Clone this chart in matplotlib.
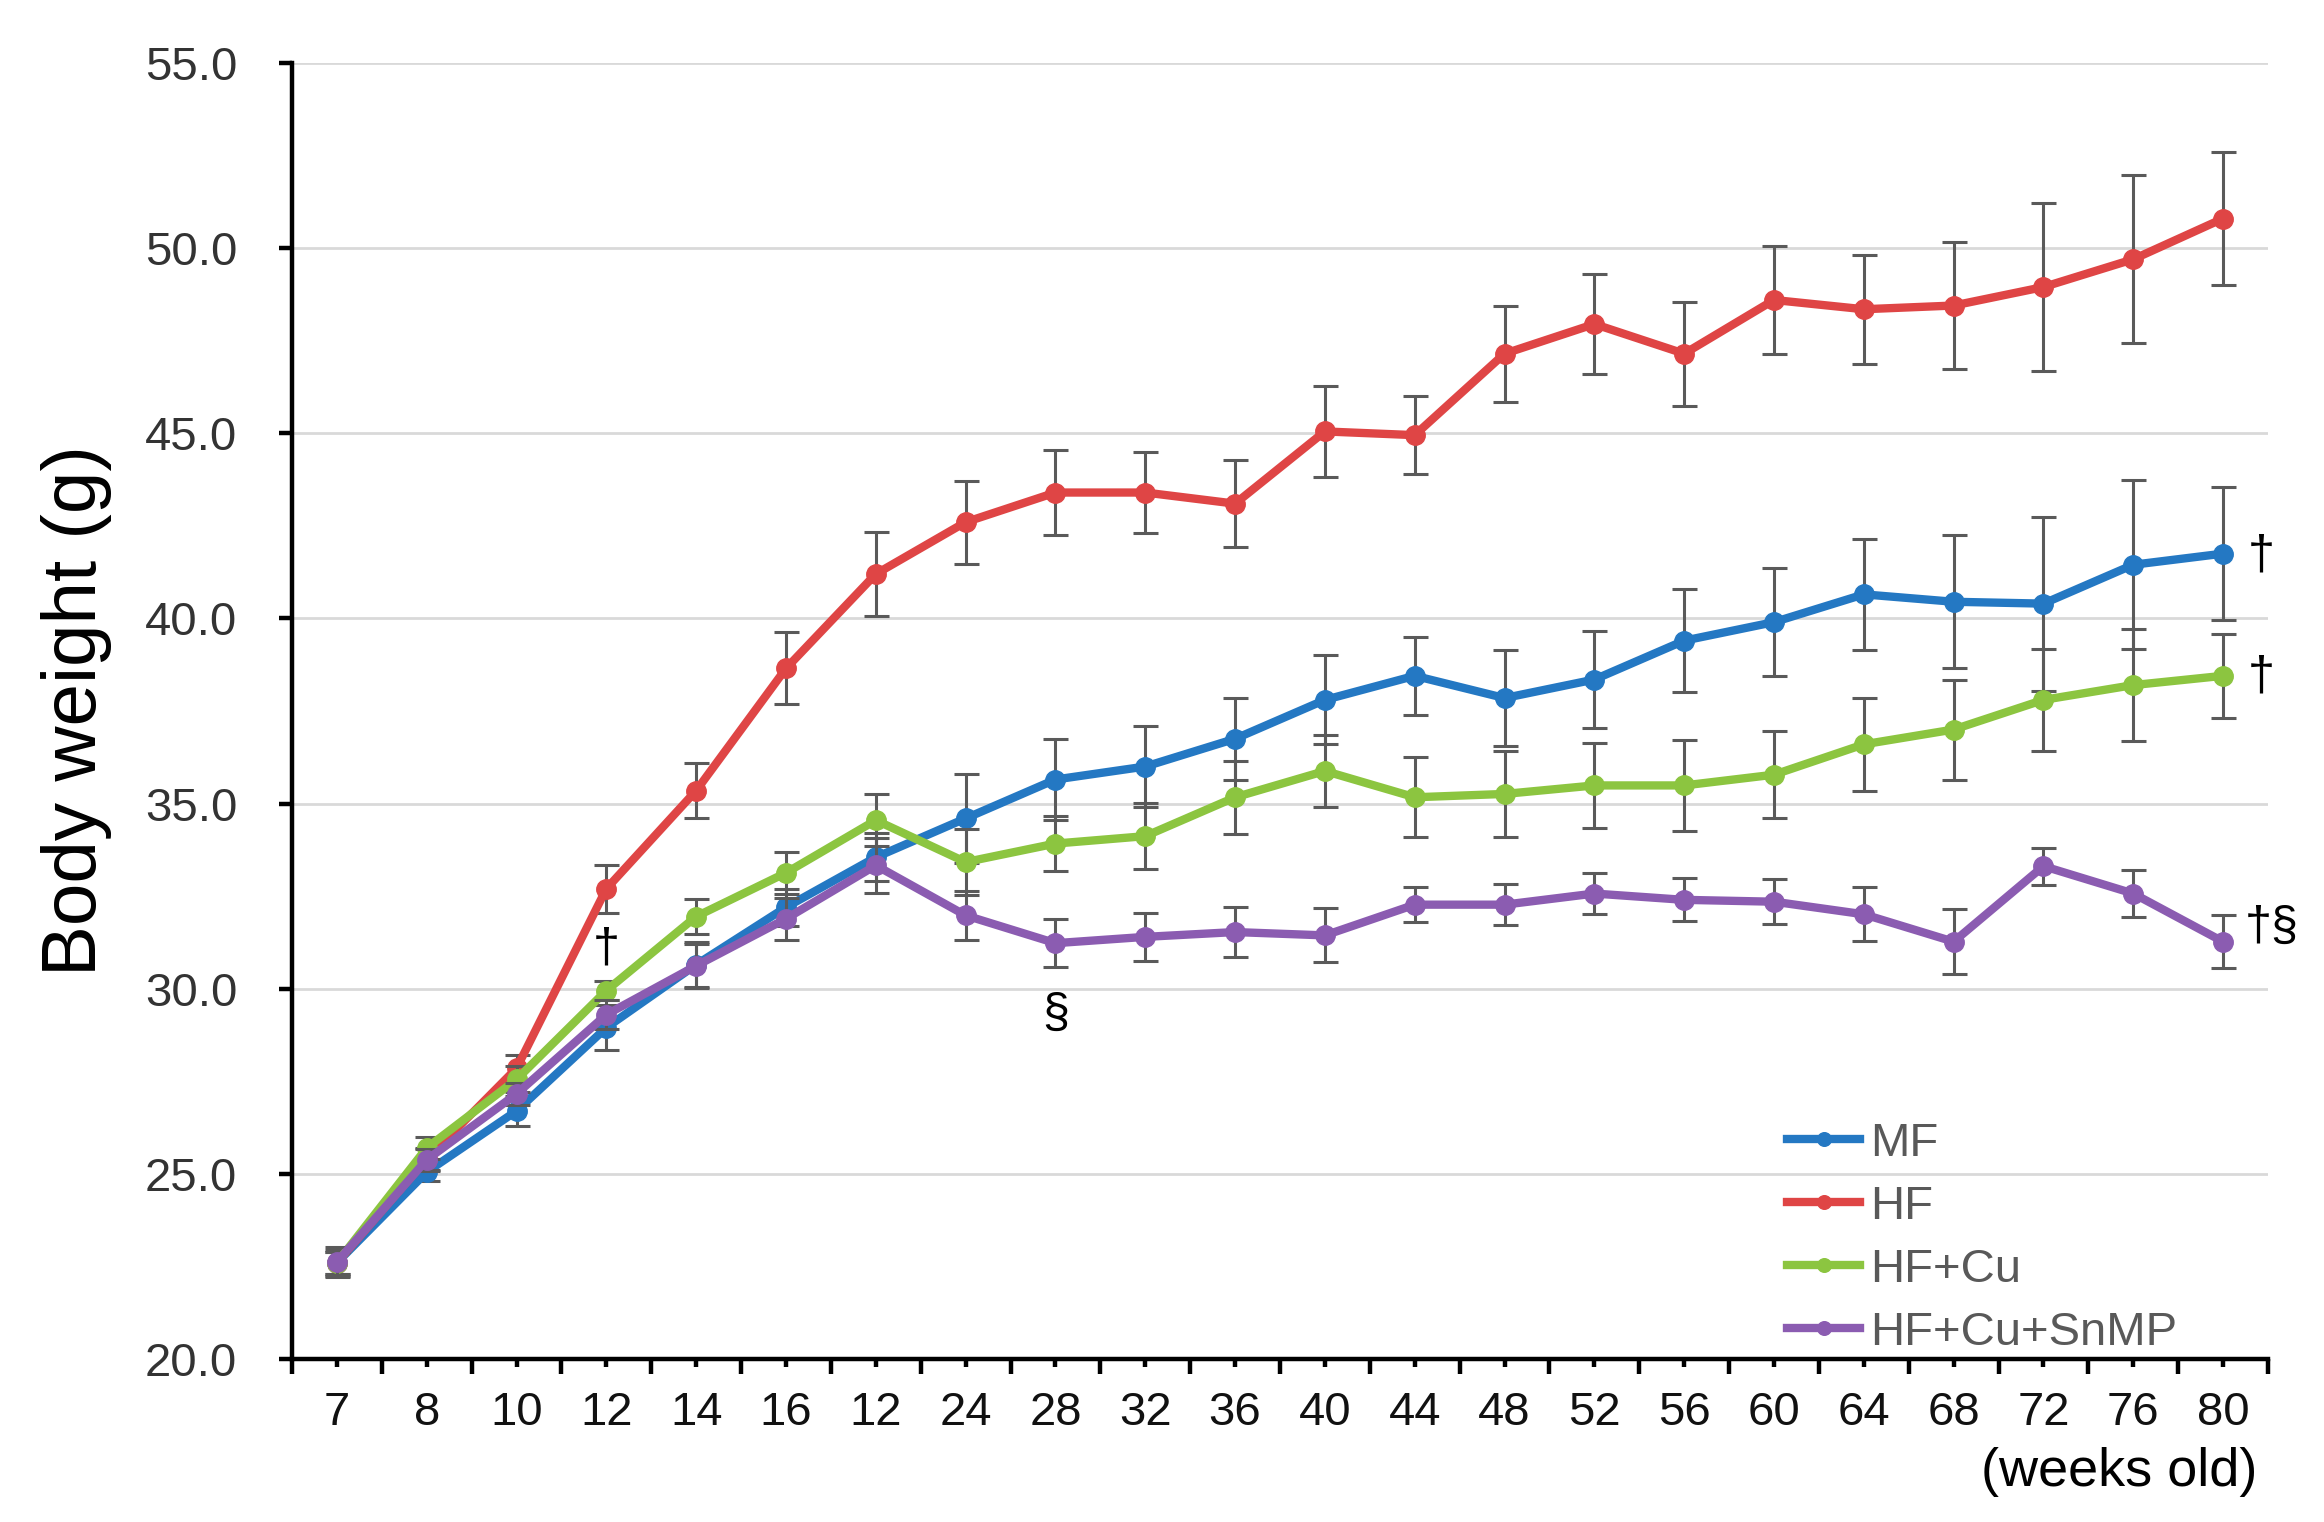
import numpy as np
import matplotlib
matplotlib.use("Agg")
import matplotlib.pyplot as plt

plt.rcParams['font.family'] = ['Liberation Sans', 'DejaVu Sans']

weeks = ["7", "8", "10", "12", "14", "16", "12", "24", "28", "32", "36", "40",
         "44", "48", "52", "56", "60", "64", "68", "72", "76", "80"]

mf = [22.6, 25.05, 26.7, 28.95, 30.65, 32.2, 33.55, 34.6, 35.65, 36.0, 36.75, 37.8,
      38.45, 37.85, 38.35, 39.4, 39.9, 40.65, 40.45, 40.4, 41.45, 41.75]
mf_err = [0.35, 0.25, 0.4, 0.6, 0.6, 0.5, 0.65, 1.2, 1.1, 1.1, 1.1, 1.2,
          1.05, 1.3, 1.3, 1.4, 1.45, 1.5, 1.8, 2.35, 2.28, 1.8]

hf = [22.6, 25.4, 27.85, 32.7, 35.35, 38.65, 41.2, 42.6, 43.4, 43.4, 43.1, 45.05,
      44.95, 47.15, 47.95, 47.15, 48.6, 48.35, 48.45, 48.95, 49.7, 50.8]
hf_err = [0.3, 0.3, 0.37, 0.65, 0.74, 0.97, 1.14, 1.12, 1.14, 1.1, 1.18, 1.23,
          1.05, 1.3, 1.35, 1.4, 1.46, 1.47, 1.72, 2.28, 2.27, 1.8]

hfcu = [22.6, 25.7, 27.55, 29.95, 31.95, 33.13, 34.55, 33.42, 33.92, 34.12, 35.17, 35.88,
        35.17, 35.26, 35.49, 35.49, 35.78, 36.6, 37.0, 37.8, 38.2, 38.45]
hfcu_err = [0.3, 0.3, 0.35, 0.25, 0.47, 0.57, 0.7, 0.88, 0.75, 0.9, 0.98, 0.97,
            1.08, 1.15, 1.14, 1.23, 1.17, 1.25, 1.35, 1.38, 1.52, 1.13]

snmp = [22.62, 25.38, 27.16, 29.3, 30.62, 31.89, 33.33, 31.98, 31.23, 31.4, 31.53, 31.44,
        32.27, 32.27, 32.57, 32.4, 32.35, 32.01, 31.27, 33.31, 32.57, 31.27]
snmp_err = [0.4, 0.3, 0.3, 0.4, 0.6, 0.57, 0.75, 0.66, 0.64, 0.65, 0.68, 0.73,
            0.48, 0.55, 0.56, 0.58, 0.6, 0.73, 0.87, 0.5, 0.63, 0.72]

series_names = ["MF", "HF", "HF+Cu", "HF+Cu+SnMP"]
series_vals = [mf, hf, hfcu, snmp]
series_errs = [mf_err, hf_err, hfcu_err, snmp_err]
colors = ["#2478C3", "#DF4545", "#8CC540", "#8B5CB1"]

W, H = 2324, 1522
fig = plt.figure(figsize=(W / 100, H / 100), dpi=100)
ax = fig.add_axes([292 / W, 1 - 1359 / H, (2268 - 292) / W, (1359 - 63) / H])

x = np.arange(len(weeks))
handles = []
for i, (name, vals, errs, c) in enumerate(zip(series_names, series_vals, series_errs, colors)):
    ax.errorbar(x, vals, yerr=errs, fmt='none', ecolor='#5a5a5a', elinewidth=2.2,
                capsize=9, capthick=2.2, zorder=3 + 2 * i)
    ln, = ax.plot(x, vals, '-o', color=c, lw=6, ms=14, mec=c, label=name,
                  zorder=4 + 2 * i)
    handles.append(ln)

ax.set_xlim(-0.5, len(weeks) - 0.5)
ax.set_ylim(20, 55)
ax.set_yticks(np.arange(20, 55.1, 5))
ax.set_yticklabels([f"{v:.1f}" for v in np.arange(20, 55.1, 5)])
ax.set_xticks(x)
ax.set_xticklabels(weeks)
ax.set_xticks(np.arange(-0.5, len(weeks), 1), minor=True)

ax.yaxis.grid(True, color='#d9d9d9', lw=2)
ax.set_axisbelow(True)
for s in ['top', 'right']:
    ax.spines[s].set_visible(False)
for s in ['left', 'bottom']:
    ax.spines[s].set_linewidth(3.2)
    ax.spines[s].set_color('black')

ax.tick_params(axis='y', which='major', direction='out', length=9.5, width=3.2,
               pad=30, labelsize=34, labelcolor='#333333')
ax.tick_params(axis='x', which='major', direction='out', length=6, width=3.2,
               pad=17, labelsize=34, labelcolor='#111111')
ax.tick_params(axis='x', which='minor', direction='out', length=11, width=3.2)

# significance marks
ax.text(3, 31.08, '†', ha='center', va='center', fontsize=35, color='black')
ax.text(8, 29.32, '§', ha='center', va='center', fontsize=35, color='black')
ax.text(21.42, 41.68, '†', ha='center', va='center', fontsize=35, color='black', clip_on=False)
ax.text(21.42, 38.43, '†', ha='center', va='center', fontsize=35, color='black', clip_on=False)
ax.text(21.54, 31.65, '†§', ha='center', va='center', fontsize=35, color='black', clip_on=False)

leg = ax.legend(handles=handles, loc='upper left',
                bbox_to_anchor=(1787 / W, 1 - 1122 / H), bbox_transform=fig.transFigure,
                frameon=False, fontsize=34, handlelength=1.55, handletextpad=0.2,
                labelspacing=0.40, borderpad=0, borderaxespad=0, markerscale=0.7)
for t in leg.get_texts():
    t.set_color('#595959')

fig.text(77 / W, 1 - 711 / H, 'Body weight (g)', rotation=90, ha='center', va='center',
         fontsize=55, color='black')
fig.text(2257 / W, 1 - 1472 / H, '(weeks old)', ha='right', va='center',
         fontsize=39, color='black')

fig.savefig('out.png', dpi=100, facecolor='white')
